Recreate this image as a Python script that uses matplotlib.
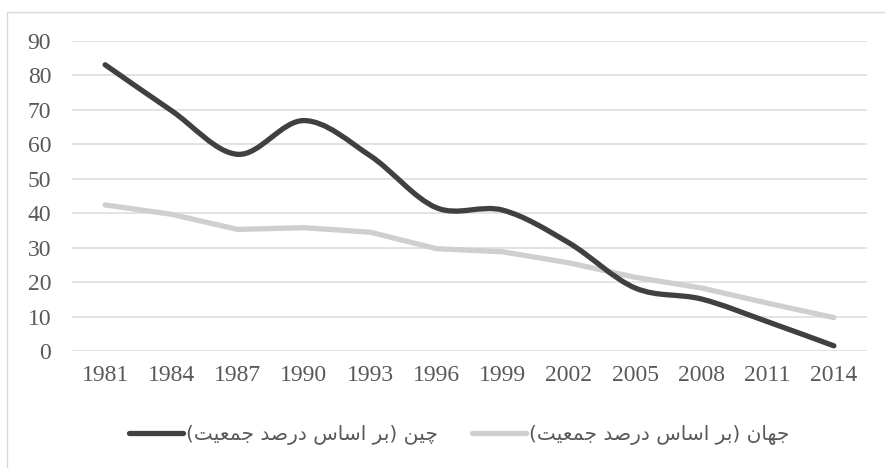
import numpy as np
from matplotlib import pyplot as plt
from matplotlib.path import Path
from matplotlib.patches import PathPatch, Rectangle
from matplotlib.lines import Line2D

years = ["1981", "1984", "1987", "1990", "1993", "1996",
         "1999", "2002", "2005", "2008", "2011", "2014"]
china = [83.1, 69.8, 57.1, 66.9, 56.7, 41.6, 40.9, 31.4, 18.3, 15.1, 8.5, 1.5]
world = [42.4, 39.7, 35.3, 35.8, 34.5, 29.7, 28.8, 25.6, 21.4, 18.3, 13.9, 9.7]
yticks = [0, 10, 20, 30, 40, 50, 60, 70, 80, 90]

label_china = "چین (بر اساس درصد جمعیت)"
label_world = "جهان (بر اساس درصد جمعیت)"

# isolated, final, initial, medial
FORMS = {
    "ا": ("\uFE8D", "\uFE8E", None, None),
    "ب": ("\uFE8F", "\uFE90", "\uFE91", "\uFE92"),
    "ت": ("\uFE95", "\uFE96", "\uFE97", "\uFE98"),
    "ج": ("\uFE9D", "\uFE9E", "\uFE9F", "\uFEA0"),
    "چ": ("\uFB7A", "\uFB7B", "\uFB7C", "\uFB7D"),
    "د": ("\uFEA9", "\uFEAA", None, None),
    "ر": ("\uFEAD", "\uFEAE", None, None),
    "س": ("\uFEB1", "\uFEB2", "\uFEB3", "\uFEB4"),
    "ص": ("\uFEB9", "\uFEBA", "\uFEBB", "\uFEBC"),
    "ع": ("\uFEC9", "\uFECA", "\uFECB", "\uFECC"),
    "م": ("\uFEE1", "\uFEE2", "\uFEE3", "\uFEE4"),
    "ن": ("\uFEE5", "\uFEE6", "\uFEE7", "\uFEE8"),
    "ه": ("\uFEE9", "\uFEEA", "\uFEEB", "\uFEEC"),
    "\u06CC": ("\uFBFC", "\uFBFD", "\uFBFE", "\uFBFF"),
    "\u064A": ("\uFEF1", "\uFEF2", "\uFEF3", "\uFEF4"),
}


def shape(text):
    # join letters, then lay them out right to left
    out = []
    n = len(text)
    for i, c in enumerate(text):
        if c not in FORMS:
            out.append(c)
            continue
        f = FORMS[c]
        prev = i > 0 and text[i - 1] in FORMS and FORMS[text[i - 1]][2] is not None
        nxt = f[2] is not None and i + 1 < n and text[i + 1] in FORMS
        if prev and nxt:
            out.append(f[3])
        elif prev:
            out.append(f[1])
        elif nxt:
            out.append(f[2])
        else:
            out.append(f[0])
    swap = {"(": ")", ")": "("}
    return "".join(swap.get(c, c) for c in reversed(out))


def smooth_path(xs, ys):
    pts = np.column_stack([xs, ys]).astype(float)
    verts = [pts[0]]
    codes = [Path.MOVETO]
    for i in range(len(pts) - 1):
        p0 = pts[max(i - 1, 0)]
        p1 = pts[i]
        p2 = pts[i + 1]
        p3 = pts[min(i + 2, len(pts) - 1)]
        verts += [p1 + (p2 - p0) / 6, p2 - (p3 - p1) / 6, p2]
        codes += [Path.CURVE4] * 3
    return Path(verts, codes)


fig = plt.figure(figsize=(8.85, 4.68), dpi=100)
fig.add_artist(Rectangle((7 / 885, -0.1), 1.2, 1 - 12 / 468 + 0.1,
                         transform=fig.transFigure, fill=False,
                         edgecolor="#d9d9d9", lw=1.0))
ax = fig.add_axes([72 / 885, 1 - 351 / 468, 795 / 885, 310 / 468])

x = np.arange(len(years))
c_china = "#404040"
c_world = "#d0cece"

ax.plot(x, world, color=c_world, lw=3.8, solid_capstyle="round",
        solid_joinstyle="round", zorder=3)
ax.add_patch(PathPatch(smooth_path(x, china), fill=False, edgecolor=c_china,
                       lw=3.8, capstyle="round", joinstyle="round", zorder=4))

ax.set_xlim(-0.5, len(years) - 0.5)
ax.set_ylim(0, 90)
ax.set_xticks(x)
ax.set_xticklabels(years)
ax.set_yticks(yticks)
ax.yaxis.grid(True, color="#e0e0e0", lw=1.3)
ax.set_axisbelow(True)
for s in ax.spines.values():
    s.set_visible(False)
ax.tick_params(length=0, labelsize=17, labelcolor="#595959")
ax.tick_params(axis="y", pad=15)
ax.tick_params(axis="x", pad=10)
for lab in ax.get_xticklabels() + ax.get_yticklabels():
    lab.set_fontfamily("Liberation Serif")

handles = [Line2D([], [], color=c_china, lw=3.8, solid_capstyle="round"),
           Line2D([], [], color=c_world, lw=3.8, solid_capstyle="round")]
fig.legend(handles, [shape(label_china), shape(label_world)],
           loc="center", bbox_to_anchor=(459 / 885, 1 - 435 / 468), ncol=2,
           frameon=False, prop={"family": "DejaVu Sans", "size": 14.5},
           handlelength=2.7, handletextpad=0.12, columnspacing=1.7,
           labelcolor="#595959")

fig.savefig("out.png", dpi=100)
